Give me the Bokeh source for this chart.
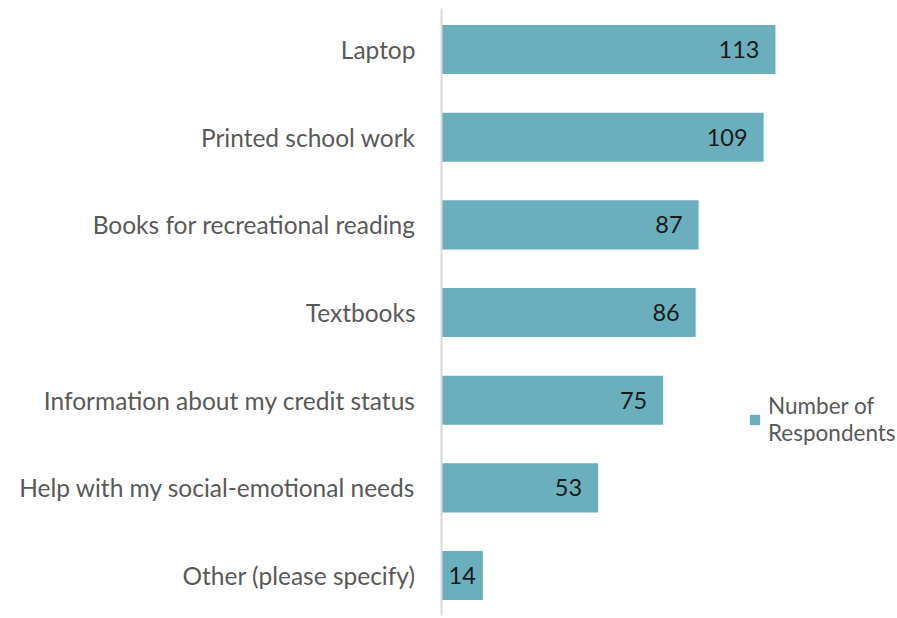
from bokeh.plotting import figure
from bokeh.models import ColumnDataSource, Range1d, FixedTicker, Legend, LegendItem, LabelSet
from bokeh.core.properties import value
from bokeh.embed import file_html
from bokeh.resources import INLINE

categories = ["Laptop", "Printed school work", "Books for recreational reading", "Textbooks",
              "Information about my credit status", "Help with my social-emotional needs",
              "Other (please specify)"]
values = [113, 109, 87, 86, 75, 53, 14]
series_name = "Number of\nRespondents"

n = len(categories)
ypos = [n - 1 - i for i in range(n)]
# inside-end labels: short bars get a tighter padding (as the spreadsheet renderer does)
offsets = [-16 if v > 20 else -7 for v in values]
src = ColumnDataSource(dict(y=ypos, v=values, cat=categories, lbl=[str(v) for v in values],
                            off=offsets))

FONT = "Lato"
p = figure(width=897, height=618, output_backend="svg", toolbar_location=None,
           x_range=Range1d(0, 154.3), y_range=Range1d(-0.456, n - 1 + 0.468),
           min_border_left=441, min_border_right=0, min_border_top=8, min_border_bottom=3)
p.outline_line_color = None
p.grid.visible = False
p.xaxis.visible = False

r = p.hbar(y="y", right="v", left=0, height=0.56, source=src, fill_color="#6BAFBC", line_color=None)

p.yaxis.ticker = FixedTicker(ticks=ypos)
p.yaxis.major_label_overrides = {y: c for y, c in zip(ypos, categories)}
p.yaxis.major_tick_line_color = None
p.yaxis.minor_tick_line_color = None
p.yaxis.axis_line_color = "#D9D9D9"
p.yaxis.axis_line_width = 2
p.yaxis.major_label_text_font = FONT
p.yaxis.major_label_text_font_size = "24.5px"
p.yaxis.major_label_text_color = "#595959"
p.yaxis.major_label_standoff = 20

labels = LabelSet(x="v", y="y", text="lbl", source=src, x_offset="off", text_align="right",
                  text_baseline="middle", text_font=value(FONT), text_font_size="23.5px",
                  text_color="#1a1a1a")
p.add_layout(labels)

legend = Legend(items=[LegendItem(label=series_name, renderers=[r])], location=(307, 169),
                background_fill_alpha=0, border_line_color=None, label_text_font=FONT,
                label_text_font_size="22.5px", label_text_color="#595959",
                label_text_line_height=1.15,
                glyph_width=13, glyph_height=13, label_standoff=7, padding=0, margin=0)
p.add_layout(legend)

open("out.html", "w").write(file_html(p, INLINE))
